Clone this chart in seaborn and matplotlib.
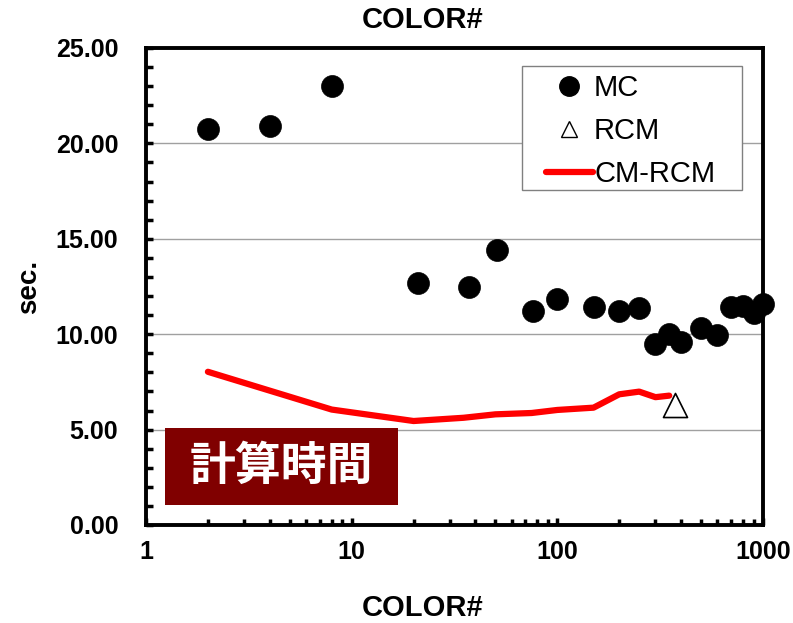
import matplotlib
matplotlib.use("Agg")
import matplotlib.pyplot as plt
import matplotlib.ticker as mticker
from matplotlib.patches import Rectangle
from matplotlib.lines import Line2D
import seaborn as sns
import pandas as pd

# ---- data ----
mc_colors = [2, 4, 8, 21, 37, 51, 76, 100, 150, 200, 250, 300, 350, 400, 500, 600, 700, 800, 900, 1000]
mc_sec = [20.75, 20.9, 23.0, 12.7, 12.5, 14.4, 11.2, 11.85, 11.45, 11.2, 11.37, 9.5, 10.0, 9.6, 10.35, 9.95, 11.4, 11.48, 11.1, 11.6]

cmrcm_colors = [2, 8, 20, 35, 50, 75, 100, 150, 200, 250, 300, 350]
cmrcm_sec = [8.03, 6.05, 5.45, 5.62, 5.8, 5.87, 6.03, 6.15, 6.85, 6.99, 6.7, 6.78]

rcm_colors = [375]
rcm_sec = [6.3]

title_text = "COLOR#"
xlabel_text = "COLOR#"
ylabel_text = "sec."
box_text = "計算時間"
legend_labels = ["MC", "RCM", "CM-RCM"]

sns.set_theme(style="white")
plt.rcParams['font.family'] = ['Liberation Sans', 'Noto Sans CJK JP', 'DejaVu Sans']
plt.rcParams['text.color'] = 'black'
plt.rcParams['axes.labelcolor'] = 'black'
plt.rcParams['xtick.color'] = 'black'
plt.rcParams['ytick.color'] = 'black'

fig = plt.figure(figsize=(7.93, 6.23), dpi=100)
ax = fig.add_axes([146/793, 1-525/623, (763-146)/793, (525-48)/623])

df_mc = pd.DataFrame({"x": mc_colors, "y": mc_sec})
df_cm = pd.DataFrame({"x": cmrcm_colors, "y": cmrcm_sec})
df_rcm = pd.DataFrame({"x": rcm_colors, "y": rcm_sec})

ax.set_xscale("log")
ax.set_xlim(1, 1000)
ax.set_ylim(0, 25)

# grid
ax.yaxis.grid(True, color="#a0a0a0", linewidth=1.0)
ax.xaxis.grid(False)
ax.set_axisbelow(True)

sns.lineplot(data=df_cm, x="x", y="y", ax=ax, color="#ff0000", linewidth=4.5,
             sort=False, legend=False, zorder=3)
sns.scatterplot(data=df_mc, x="x", y="y", ax=ax, color="black", s=250,
                marker="o", edgecolor="black", linewidth=0.5, legend=False, zorder=4)
sns.scatterplot(data=df_rcm, x="x", y="y", ax=ax, marker="^", s=300,
                facecolor="white", edgecolor="black", linewidth=1.2, legend=False, zorder=4)
for coll in ax.collections:
    coll.set_clip_on(False)

# ticks
ax.yaxis.set_major_locator(mticker.MultipleLocator(5))
ax.yaxis.set_minor_locator(mticker.MultipleLocator(1))
ax.yaxis.set_major_formatter(mticker.FormatStrFormatter("%.2f"))
ax.xaxis.set_major_locator(mticker.LogLocator(base=10, numticks=10))
ax.xaxis.set_minor_locator(mticker.LogLocator(base=10, subs=range(2, 10), numticks=20))
ax.xaxis.set_major_formatter(mticker.FuncFormatter(lambda v, p: f"{int(round(v))}"))
ax.xaxis.set_minor_formatter(mticker.NullFormatter())

ax.tick_params(axis="both", which="both", direction="in", color="black", width=2.5)
ax.tick_params(axis="y", which="major", length=5, pad=20, labelsize=18)
ax.tick_params(axis="y", which="minor", length=5)
ax.tick_params(axis="x", which="major", length=5, pad=11, labelsize=18)
ax.tick_params(axis="x", which="minor", length=4)
ax.tick_params(left=True, bottom=True, right=False, top=False, which="both")
for lab in ax.get_xticklabels() + ax.get_yticklabels():
    lab.set_fontweight("bold")

for sp in ax.spines.values():
    sp.set_visible(True)
    sp.set_color("black")
    sp.set_linewidth(2.8)

ax.set_xlabel("")
fig.text(423/793, 1-20/623, title_text, ha="center", va="center", fontsize=21, fontweight="bold")
fig.text(423/793, 1-608/623, xlabel_text, ha="center", va="center", fontsize=21, fontweight="bold")
ax.set_ylabel(ylabel_text, fontsize=20, fontweight="bold", labelpad=10)

# legend frame
lx0, lx1 = (522-146)/617, (742-146)/617
ly0, ly1 = (525-190)/477, (525-66)/477
ax.add_patch(Rectangle((lx0, ly0), lx1-lx0, ly1-ly0, transform=ax.transAxes,
                       facecolor="white", edgecolor="#808080", linewidth=1.0, zorder=6))
handles = [
    Line2D([], [], linestyle="none", marker="o", markersize=14, markerfacecolor="black", markeredgecolor="black"),
    Line2D([], [], linestyle="none", marker="^", markersize=12, markerfacecolor="white", markeredgecolor="black", markeredgewidth=1.0),
    Line2D([], [], color="#ff0000", linewidth=4.5),
]
leg = ax.legend(handles, legend_labels, loc="upper left",
                bbox_to_anchor=((546-146)/617, (525-74)/477), fontsize=21, frameon=False,
                handlelength=1.6, handletextpad=0.05, labelspacing=0.52,
                borderpad=0, borderaxespad=0)
leg.set_zorder(7)

# text box
x0, x1 = (165-146)/617, (398-146)/617
y0, y1 = (525-505)/477, (525-428)/477
ax.add_patch(Rectangle((x0, y0), x1-x0, y1-y0, transform=ax.transAxes,
                       facecolor="#800000", edgecolor="none", zorder=5))
ax.text((x0+x1)/2, (y0+y1)/2, box_text, transform=ax.transAxes, ha="center", va="center",
        color="white", fontsize=33, fontweight="bold",
        family=["Noto Sans CJK JP", "DejaVu Sans"], zorder=6)

fig.savefig("out.png", dpi=100)
